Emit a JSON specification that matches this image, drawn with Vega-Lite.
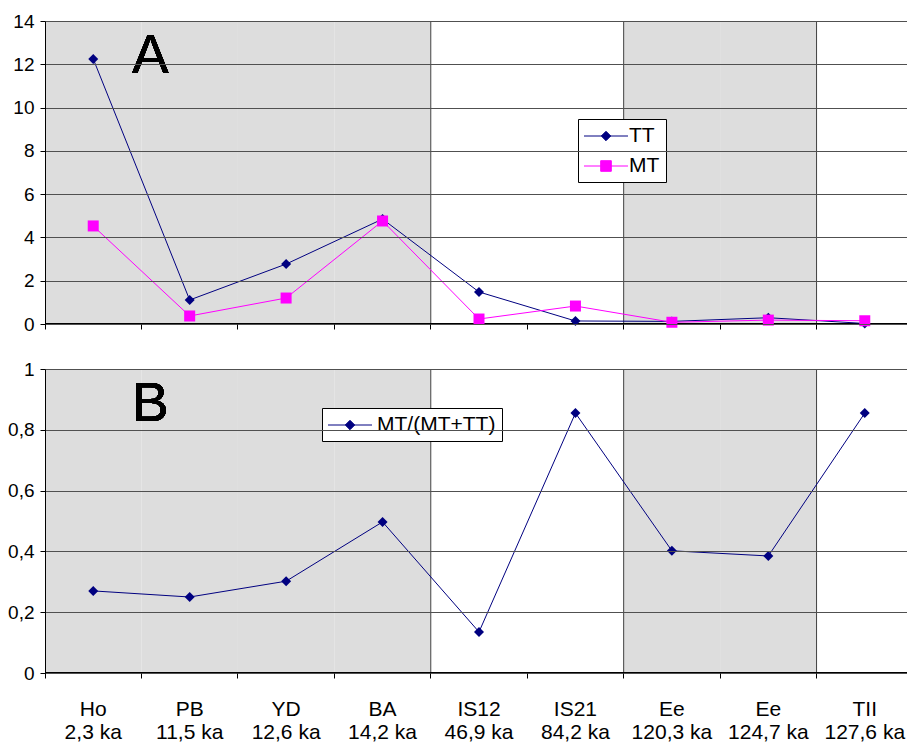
{
  "$schema": "https://vega.github.io/schema/vega-lite/v6.json",
  "padding": {"left": 7, "top": 12, "right": 0, "bottom": 0},
  "background": "white",
  "config": {
    "font": "Liberation Sans",
    "view": {"stroke": null},
    "axis": {"labelFont": "Liberation Sans", "labelColor": "black", "tickColor": "black", "domainColor": "black", "gridColor": "#505050", "gridWidth": 1, "tickWidth": 1, "domainWidth": 1, "title": null, "gridOpacity": 1, "tickOpacity": 1}
  },
  "resolve": {"scale": {"color": "independent"}, "legend": {"color": "independent"}},
  "data": {
    "values": [
      {"sample": "Ho 2,3 ka", "section": "Holocene-Lateglacial", "TT": 12.25, "MT": 4.53, "ratio": 0.27},
      {"sample": "PB 11,5 ka", "section": "Holocene-Lateglacial", "TT": 1.11, "MT": 0.37, "ratio": 0.25},
      {"sample": "YD 12,6 ka", "section": "Holocene-Lateglacial", "TT": 2.77, "MT": 1.2, "ratio": 0.302},
      {"sample": "BA 14,2 ka", "section": "Holocene-Lateglacial", "TT": 4.85, "MT": 4.76, "ratio": 0.497},
      {"sample": "IS12 46,9 ka", "section": "Interstadials", "TT": 1.48, "MT": 0.23, "ratio": 0.135},
      {"sample": "IS21 84,2 ka", "section": "Interstadials", "TT": 0.14, "MT": 0.83, "ratio": 0.855},
      {"sample": "Ee 120,3 ka", "section": "Eemian", "TT": 0.12, "MT": 0.08, "ratio": 0.402},
      {"sample": "Ee 124,7 ka", "section": "Eemian", "TT": 0.29, "MT": 0.18, "ratio": 0.385},
      {"sample": "TII 127,6 ka", "section": "Termination II", "TT": 0.025, "MT": 0.15, "ratio": 0.855}
    ]
  },
  "bounds": "flush",
  "spacing": 45,
  "vconcat": [
    {
      "width": 863,
      "height": 303,
      "layer": [
        {
          "mark": {"type": "rect", "clip": true},
          "encoding": {
            "x": {"field": "sample", "type": "nominal", "sort": null,
                  "scale": {"range": [0, 868], "paddingInner": 0, "paddingOuter": 0},
                  "axis": {"labels": false, "domain": false, "bandPosition": 0, "tickSize": 5, "grid": false, "zindex": 1}},
            "fill": {"field": "section", "type": "nominal", "sort": null,
                     "scale": {"domain": ["Holocene-Lateglacial", "Interstadials", "Eemian", "Termination II"], "range": ["#DDDDDD", "#FFFFFF", "#DDDDDD", "#FFFFFF"]},
                     "legend": null}
          }
        },
        {
          "transform": [
            {"window": [{"op": "lag", "field": "section", "as": "prev"}]},
            {"filter": "datum.prev != null && datum.prev !== datum.section"}
          ],
          "mark": {"type": "rule", "color": "#404040", "strokeWidth": 1},
          "encoding": {"x": {"field": "sample", "type": "nominal", "sort": null, "bandPosition": 0}}
        },
        {
          "mark": {"type": "rule", "color": "black", "strokeWidth": 1},
          "encoding": {"y": {"datum": 0}}
        },
        {
          "mark": {"type": "line", "strokeWidth": 1},
          "encoding": {
            "x": {"field": "sample", "type": "nominal", "sort": null},
            "y": {"field": "TT", "type": "quantitative", "scale": {"domain": [0, 14], "nice": false},
                  "axis": {"values": [0, 2, 4, 6, 8, 10, 12, 14], "grid": true, "tickSize": 5, "labelPadding": 6, "labelFontSize": 19, "zindex": 1}},
            "color": {"datum": "TT", "type": "nominal",
                      "scale": {"domain": ["TT", "MT"], "range": ["#000080", "#FF00FF"]},
                      "legend": {"title": null, "orient": "none", "legendX": 533, "legendY": 98, "direction": "vertical",
                                 "padding": 6, "rowPadding": 9, "labelFontSize": 21, "labelFont": "Liberation Sans", "labelColor": "black",
                                 "symbolOffset": 11, "labelOffset": 12, "strokeColor": "black", "fillColor": "white", "symbolSize": 441,
                                 "encode": {"symbols": {"update": {
                                   "shape": {"signal": "datum.value === 'TT' ? 'M-2.095,0L2.095,0M0,-0.448L0.448,0L0,0.448L-0.448,0Z' : 'M-2.095,0L2.095,0M-0.505,-0.505L0.505,-0.505L0.505,0.505L-0.505,0.505Z'"},
                                   "size": {"value": 441},
                                   "fill": {"signal": "datum.value === 'TT' ? '#000080' : '#FF00FF'"},
                                   "stroke": {"signal": "datum.value === 'TT' ? '#000080' : '#FF00FF'"},
                                   "strokeWidth": {"value": 1},
                                   "opacity": {"value": 1},
                                   "fillOpacity": {"value": 1}
                                 }}}}}
          }
        },
        {
          "mark": {"type": "point", "shape": "diamond", "filled": true, "size": 100, "opacity": 1},
          "encoding": {
            "x": {"field": "sample", "type": "nominal", "sort": null},
            "y": {"field": "TT", "type": "quantitative"},
            "color": {"datum": "TT", "type": "nominal"}
          }
        },
        {
          "mark": {"type": "line", "strokeWidth": 1},
          "encoding": {
            "x": {"field": "sample", "type": "nominal", "sort": null},
            "y": {"field": "MT", "type": "quantitative"},
            "color": {"datum": "MT", "type": "nominal"}
          }
        },
        {
          "mark": {"type": "point", "shape": "square", "filled": true, "size": 121, "opacity": 1},
          "encoding": {
            "x": {"field": "sample", "type": "nominal", "sort": null},
            "y": {"field": "MT", "type": "quantitative"},
            "color": {"datum": "MT", "type": "nominal"}
          }
        },
        {
          "mark": {"type": "text", "fontSize": 55, "font": "Liberation Sans", "align": "center", "baseline": "alphabetic", "dx": 57, "color": "black"},
          "encoding": {
            "x": {"datum": "Ho 2,3 ka", "type": "nominal"},
            "y": {"datum": 11.6},
            "text": {"value": "A"}
          }
        }
      ]
    },
    {
      "width": 863,
      "height": 304,
      "layer": [
        {
          "mark": {"type": "rect", "clip": true},
          "encoding": {
            "x": {"field": "sample", "type": "nominal", "sort": null,
                  "scale": {"range": [0, 868], "paddingInner": 0, "paddingOuter": 0},
                  "axis": {"labelExpr": "[slice(datum.value, 0, indexof(datum.value, ' ')), slice(datum.value, indexof(datum.value, ' ') + 1)]",
                           "labelAngle": 0, "labelFontSize": 21, "labelLineHeight": 23, "labelPadding": 20, "labelBaseline": "top",
                           "domain": false, "bandPosition": 0, "tickSize": 5, "grid": false, "zindex": 1, "labelOverlap": false}},
            "fill": {"field": "section", "type": "nominal", "sort": null,
                     "scale": {"domain": ["Holocene-Lateglacial", "Interstadials", "Eemian", "Termination II"], "range": ["#DDDDDD", "#FFFFFF", "#DDDDDD", "#FFFFFF"]},
                     "legend": null}
          }
        },
        {
          "transform": [
            {"window": [{"op": "lag", "field": "section", "as": "prev"}]},
            {"filter": "datum.prev != null && datum.prev !== datum.section"}
          ],
          "mark": {"type": "rule", "color": "#404040", "strokeWidth": 1},
          "encoding": {"x": {"field": "sample", "type": "nominal", "sort": null, "bandPosition": 0}}
        },
        {
          "mark": {"type": "rule", "color": "black", "strokeWidth": 1},
          "encoding": {"y": {"datum": 0}}
        },
        {
          "mark": {"type": "line", "strokeWidth": 1},
          "encoding": {
            "x": {"field": "sample", "type": "nominal", "sort": null},
            "y": {"field": "ratio", "type": "quantitative", "scale": {"domain": [0, 1], "nice": false},
                  "axis": {"values": [0, 0.2, 0.4, 0.6, 0.8, 1], "labelExpr": "replace(toString(datum.value), '.', ',')", "grid": true, "tickSize": 5, "labelPadding": 6, "labelFontSize": 19, "zindex": 1}},
            "color": {"datum": "MT/(MT+TT)", "type": "nominal",
                      "scale": {"domain": ["MT/(MT+TT)"], "range": ["#000080"]},
                      "legend": {"title": null, "orient": "none", "legendX": 277, "legendY": 39, "direction": "vertical",
                                 "padding": 6, "rowPadding": 9, "labelFontSize": 21, "labelFont": "Liberation Sans", "labelColor": "black",
                                 "symbolOffset": 11, "labelOffset": 16, "strokeColor": "black", "fillColor": "white", "symbolSize": 441,
                                 "encode": {"symbols": {"update": {
                                   "shape": {"value": "M-2.095,0L2.095,0M0,-0.448L0.448,0L0,0.448L-0.448,0Z"},
                                   "size": {"value": 441},
                                   "fill": {"value": "#000080"},
                                   "stroke": {"value": "#000080"},
                                   "strokeWidth": {"value": 1},
                                   "opacity": {"value": 1},
                                   "fillOpacity": {"value": 1}
                                 }}}}}
          }
        },
        {
          "mark": {"type": "point", "shape": "diamond", "filled": true, "size": 100, "opacity": 1},
          "encoding": {
            "x": {"field": "sample", "type": "nominal", "sort": null},
            "y": {"field": "ratio", "type": "quantitative"},
            "color": {"datum": "MT/(MT+TT)", "type": "nominal"}
          }
        },
        {
          "mark": {"type": "text", "fontSize": 55, "font": "Liberation Sans", "align": "center", "baseline": "alphabetic", "dx": 57, "color": "black"},
          "encoding": {
            "x": {"datum": "Ho 2,3 ka", "type": "nominal"},
            "y": {"datum": 0.83},
            "text": {"value": "B"}
          }
        }
      ]
    }
  ]
}
